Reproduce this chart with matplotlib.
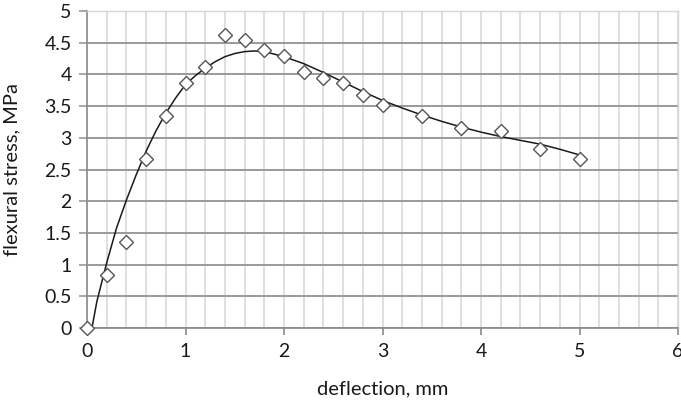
import numpy as np
import matplotlib.pyplot as plt

# measured points (deflection in mm, flexural stress in MPa)
deflection = [0.0, 0.2, 0.4, 0.6, 0.8, 1.0, 1.2, 1.4, 1.6, 1.8, 2.0,
              2.2, 2.4, 2.6, 2.8, 3.0, 3.4, 3.8, 4.2, 4.6, 5.0]
stress = [0.0, 0.84, 1.36, 2.66, 3.35, 3.87, 4.12, 4.62, 4.55, 4.38, 4.29,
          4.04, 3.94, 3.87, 3.68, 3.51, 3.35, 3.16, 3.10, 2.83, 2.67]

# trend curve
curve_x = [0.05, 0.1, 0.2, 0.3, 0.4, 0.5, 0.6, 0.7, 0.8, 0.9, 1.0, 1.1, 1.2,
           1.3, 1.4, 1.5, 1.6, 1.7, 1.8, 1.9, 2.0, 2.2, 2.4, 2.6, 2.8, 3.0,
           3.2, 3.4, 3.6, 3.8, 4.0, 4.2, 4.4, 4.6, 4.8, 5.0]
curve_y = [0.0, 0.42, 1.03, 1.58, 2.02, 2.42, 2.79, 3.11, 3.39, 3.63, 3.84,
           3.98, 4.1, 4.2, 4.28, 4.33, 4.36, 4.37, 4.36, 4.32, 4.28, 4.17,
           4.03, 3.88, 3.73, 3.59, 3.47, 3.36, 3.26, 3.17, 3.09, 3.02, 2.96,
           2.9, 2.82, 2.73]

plt.rcParams['font.family'] = ['Lato', 'DejaVu Sans']

fig = plt.figure(figsize=(6.81, 4.01), dpi=100)
ax = fig.add_axes([0.1278, 0.182, 0.8678, 0.7905])

ax.set_xlim(0, 6)
ax.set_ylim(0, 5)
ax.set_xticks(np.arange(0, 7, 1))
ax.set_xticks(np.arange(0, 6.01, 0.2), minor=True)
ax.set_yticks(np.arange(0, 5.01, 0.5))
ax.set_yticklabels(['0', '0.5', '1', '1.5', '2', '2.5', '3', '3.5', '4', '4.5', '5'])

ax.grid(which='minor', axis='x', color='#d6d6d6', lw=1.1)
ax.grid(which='major', axis='x', color='#d6d6d6', lw=1.1)
ax.grid(which='major', axis='y', color='#9a9a9a', lw=1.4)
ax.set_axisbelow(True)

for side in ['top', 'right']:
    ax.spines[side].set_color('#d6d6d6')
    ax.spines[side].set_linewidth(1.0)
for side in ['left', 'bottom']:
    ax.spines[side].set_color('#8a8a8a')
    ax.spines[side].set_linewidth(1.2)

ax.tick_params(axis='x', which='major', length=5, color='#8a8a8a', width=1.2,
               labelsize=14, labelcolor='#1a1a1a', pad=6)
ax.tick_params(axis='x', which='minor', length=0)
ax.tick_params(axis='y', length=6, color='#9a9a9a', width=1.2,
               labelsize=14, labelcolor='#1a1a1a', pad=5)

ax.plot(curve_x, curve_y, color='#1a1a1a', lw=1.1, zorder=3)
ax.plot(deflection, stress, linestyle='none', marker='D', ms=6.8,
        mfc='white', mec='#555555', mew=1.0, zorder=4, clip_on=False)

ax.set_xlabel('deflection, mm', fontsize=14.5, color='#1a1a1a', va='top')
ax.xaxis.set_label_coords(0.5, -0.165)
ax.set_ylabel('flexural stress, MPa', fontsize=14.5, color='#1a1a1a')
ax.yaxis.set_label_coords(-0.113, 0.5)

fig.savefig('out.png', dpi=100)
